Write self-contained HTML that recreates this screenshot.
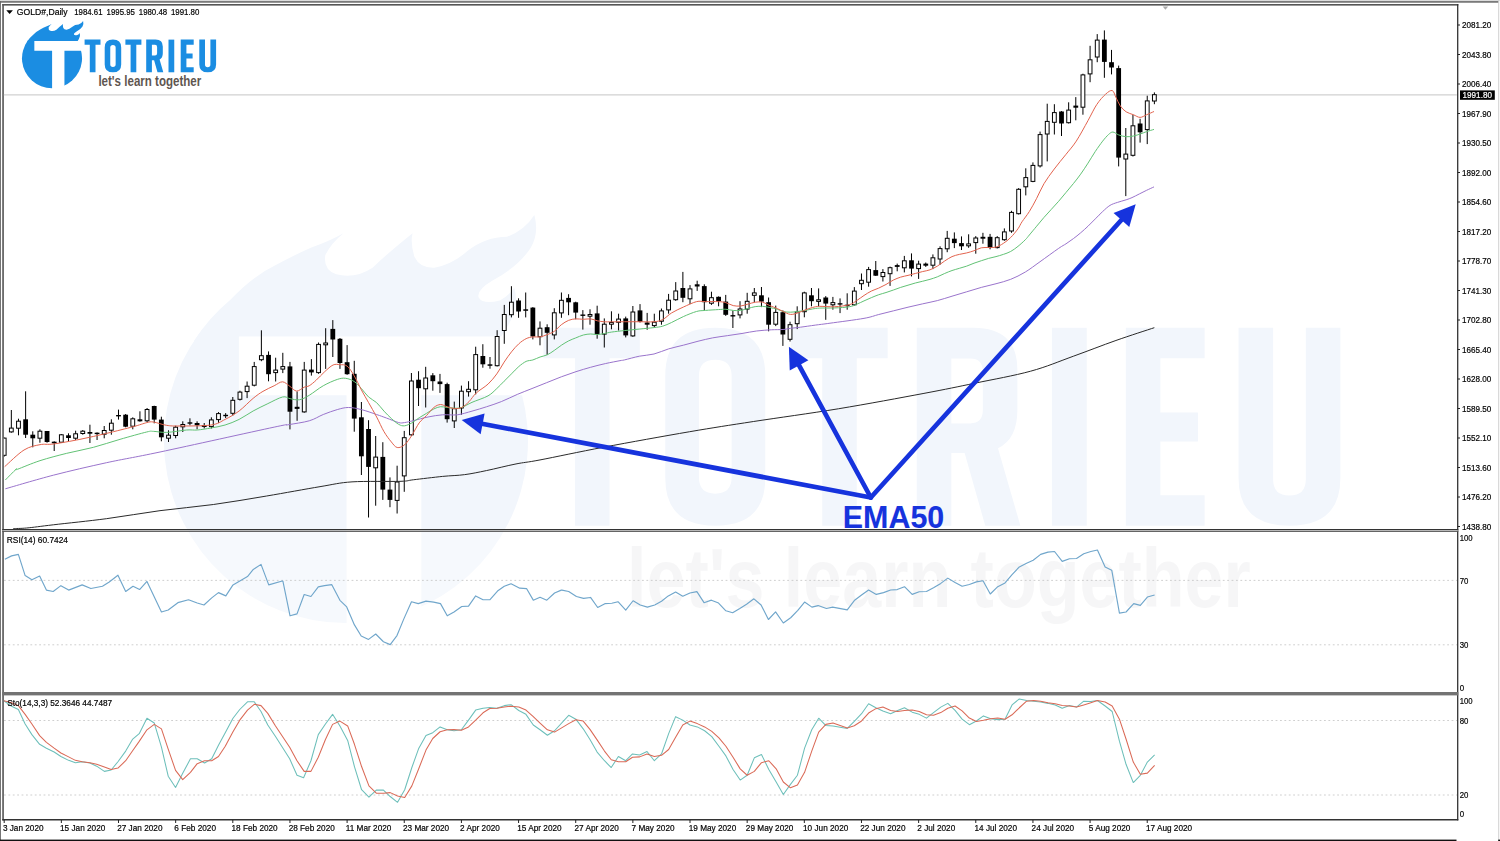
<!DOCTYPE html>
<html><head><meta charset="utf-8"><title>GOLD Daily - EMA50</title>
<style>html,body{margin:0;padding:0;background:#fff;}body{width:1500px;height:841px;overflow:hidden;font-family:"Liberation Sans",sans-serif;}svg{display:block;}text{font-family:"Liberation Sans",sans-serif;}</style>
</head><body>
<svg width="1500" height="841" viewBox="0 0 1500 841">
<defs>
<clipPath id="mainclip"><rect x="3.8" y="5.6" width="1453.2" height="523.6"/></clipPath>
<clipPath id="rsiclip"><rect x="3.8" y="532" width="1453.2" height="160"/></clipPath>
<clipPath id="stoclip"><rect x="3.8" y="695.5" width="1453.2" height="123.5"/></clipPath>
</defs>
<rect x="0" y="0" width="1500" height="841" fill="#fff"/>
<rect x="0" y="0" width="1500" height="1.1" fill="#dcdcdc"/>
<rect x="0" y="1.1" width="1498.8" height="1.6" fill="#6c6c6c"/>
<rect x="0" y="1.1" width="0.9" height="840" fill="#666"/>
<rect x="1498.2" y="0" width="1" height="841" fill="#d0d0d0"/>
<rect x="0" y="839.6" width="1456.5" height="1.4" fill="#111"/>
<rect x="1498.2" y="839.6" width="1.8" height="1.4" fill="#111"/>
<g id="wm" transform="translate(30.8,87.7) scale(6.06)">
<g fill="#f2f6fc">
<path d="M27.82,40.5 A30.03,30.03 0 1 0 76.2,40.5 Z"/>
<path d="M26.92,41.8 A30.03,30.03 0 0 1 32.94,35 Q36.5,31.2 40.2,29.4 Q43.5,27.6 46.2,26.4 Q49.5,25.2 51.6,24 Q49.6,25.6 48.6,27.6 Q48.2,30 50.4,30.8 Q53.5,31.6 56.4,29.7 Q59,27.2 63,24 Q62.6,25.5 63.3,27.9 Q64.2,29.8 66.6,29.7 Q69.5,29.2 72,27 Q75,24.6 78.6,24.6 Q81.5,23.5 83.1,21 Q83.9,24 82.5,26.4 Q80.5,29.5 76.2,31.8 Q73.5,33.4 73.9,34.6 Q74.6,35.8 77.4,35.1 Q78.8,34.4 79.8,33 Q80.6,36 78.9,39 L77.2,41.8 Z"/>
</g>
<path fill="#fff" d="M34.34,41.06 H84 V50.74 H64.44 V90 H52.1 V50.74 H34.34 Z"/>
<g fill="#f2f6fc" fill-rule="evenodd">
<path d="M84.6,39.62 H100.5 V44.65 H95.5 V72.28 H89.8 V44.65 H84.6 Z"/>
<path d="M104.7,47.5 Q104.7,39.62 112.95,39.62 Q121.2,39.62 121.2,47.5 V64.4 Q121.2,72.28 112.95,72.28 Q104.7,72.28 104.7,64.4 Z M110.25,47.6 V64.3 Q110.25,67 112.95,67 Q115.65,67 115.65,64.3 V47.6 Q115.65,44.9 112.95,44.9 Q110.25,44.9 110.25,47.6 Z"/>
<path d="M125.4,39.62 H141.4 V44.65 H136.3 V72.28 H130.6 V44.65 H125.4 Z"/>
<path d="M146.2,39.62 H155.6 Q162.8,39.62 162.8,46.6 V53.2 Q162.8,58 159.6,59.5 L163.3,72.28 H157.5 L154.1,60.3 H151.9 V72.28 H146.2 Z M151.9,44.7 V55.4 H155 Q157.1,55.4 157.1,53.2 V46.9 Q157.1,44.7 155,44.7 Z"/>
<rect x="168.5" y="39.62" width="5.75" height="32.66"/>
<path d="M180.7,39.62 H193.7 V44.65 H186.4 V53.6 H192.6 V58.4 H186.4 V67.25 H193.7 V72.28 H180.7 Z"/>
<path d="M199.3,39.62 H205 V64.6 Q205,67.3 207.7,67.3 Q210.4,67.3 210.4,64.6 V39.62 H216.1 V64.4 Q216.1,72.28 207.7,72.28 Q199.3,72.28 199.3,64.4 Z"/>
</g>
<text x="98.4" y="85.65" font-size="13.9" font-weight="bold" textLength="102.9" lengthAdjust="spacingAndGlyphs" fill="#f3f3f4">let's learn together</text>
</g>
<rect x="3.8" y="532" width="1453" height="160" fill="#fff" opacity="0.3"/>
<rect x="2.3" y="4" width="1.5" height="816.4" fill="#4a4a4a"/>
<rect x="2.3" y="4" width="1456" height="1.6" fill="#555"/>
<rect x="1457.05" y="4" width="1.3" height="816.4" fill="#333"/>
<rect x="2.3" y="529" width="1456" height="1.1" fill="#333"/>
<rect x="2.3" y="530.1" width="1456" height="0.8" fill="#bbb"/>
<rect x="2.3" y="530.9" width="1456" height="1" fill="#555"/>
<rect x="2.3" y="692" width="1456" height="3.4" fill="#737373"/>
<rect x="2.3" y="819" width="1456" height="1.5" fill="#333"/>
<polygon points="1162.7,6.6 1168.2,6.6 1165.4,9.7" fill="#aaa"/>
<rect x="3.8" y="94.4" width="1453" height="1" fill="#c6c6c6"/>
<line x1="4" y1="580.4" x2="1457" y2="580.4" stroke="#c9c9c9" stroke-width="0.9" stroke-dasharray="1.8,2.6"/>
<line x1="4" y1="644.8" x2="1457" y2="644.8" stroke="#c9c9c9" stroke-width="0.9" stroke-dasharray="1.8,2.6"/>
<line x1="4" y1="720.5" x2="1457" y2="720.5" stroke="#c9c9c9" stroke-width="0.9" stroke-dasharray="1.8,2.6"/>
<line x1="4" y1="795" x2="1457" y2="795" stroke="#c9c9c9" stroke-width="0.9" stroke-dasharray="1.8,2.6"/>
<g clip-path="url(#mainclip)">
<g fill="#000"><rect x="3.69" y="437.6" width="1" height="19"/><rect x="10.83" y="410" width="1" height="22.7"/><rect x="17.98" y="418.7" width="1" height="16.6"/><rect x="25.12" y="391.3" width="1" height="46.7"/><rect x="32.27" y="431.3" width="1" height="16"/><rect x="39.41" y="429.3" width="1" height="13.4"/><rect x="46.55" y="431" width="1" height="11.7"/><rect x="53.7" y="441.3" width="1" height="9.7"/><rect x="60.84" y="434" width="1" height="8.7"/><rect x="67.99" y="433.3" width="1" height="8"/><rect x="75.13" y="430.7" width="1" height="9.3"/><rect x="82.27" y="430" width="1" height="4.7"/><rect x="89.42" y="424.7" width="1" height="18.3"/><rect x="96.56" y="432.4" width="1" height="7.6"/><rect x="103.71" y="426" width="1" height="12.3"/><rect x="110.85" y="419.3" width="1" height="15.4"/><rect x="117.99" y="409.6" width="1" height="10"/><rect x="125.14" y="414" width="1" height="13.3"/><rect x="132.28" y="417.3" width="1" height="12"/><rect x="139.43" y="411.3" width="1" height="10.4"/><rect x="146.57" y="408" width="1" height="14.3"/><rect x="153.71" y="405.7" width="1" height="17.6"/><rect x="160.86" y="416.7" width="1" height="24.6"/><rect x="168" y="430.3" width="1" height="11.7"/><rect x="175.15" y="425.7" width="1" height="12.6"/><rect x="182.29" y="421.3" width="1" height="10.7"/><rect x="189.43" y="418.3" width="1" height="7"/><rect x="196.58" y="421.3" width="1" height="8"/><rect x="203.72" y="423" width="1" height="5.5"/><rect x="210.87" y="417.3" width="1" height="11.2"/><rect x="218.01" y="412.1" width="1" height="10.8"/><rect x="225.15" y="413.1" width="1" height="4.9"/><rect x="232.3" y="397" width="1" height="18.5"/><rect x="239.44" y="390.7" width="1" height="9.8"/><rect x="246.59" y="381.5" width="1" height="16.6"/><rect x="253.73" y="361.9" width="1" height="24.5"/><rect x="260.87" y="330.3" width="1" height="30.9"/><rect x="268.02" y="351.4" width="1" height="29.9"/><rect x="275.16" y="357.7" width="1" height="23.8"/><rect x="282.31" y="352.8" width="1" height="20.3"/><rect x="289.45" y="361.9" width="1" height="67.5"/><rect x="296.59" y="391.4" width="1" height="29.4"/><rect x="303.74" y="361.9" width="1" height="50.8"/><rect x="310.88" y="359.1" width="1" height="16.5"/><rect x="318.03" y="342.5" width="1" height="31.3"/><rect x="325.17" y="328.2" width="1" height="40.7"/><rect x="332.31" y="320.1" width="1" height="36.9"/><rect x="339.46" y="338" width="1" height="30.9"/><rect x="346.6" y="345.1" width="1" height="29.7"/><rect x="353.75" y="360.8" width="1" height="70.9"/><rect x="360.89" y="402" width="1" height="73"/><rect x="368.03" y="420.2" width="1" height="97.3"/><rect x="375.18" y="436" width="1" height="69.7"/><rect x="382.32" y="442.2" width="1" height="57.7"/><rect x="389.47" y="477.4" width="1" height="29.8"/><rect x="396.61" y="465.7" width="1" height="47.8"/><rect x="403.75" y="430.9" width="1" height="60.9"/><rect x="410.9" y="373" width="1" height="63"/><rect x="418.04" y="371.2" width="1" height="34.8"/><rect x="425.19" y="366.8" width="1" height="40.7"/><rect x="432.33" y="373.1" width="1" height="17.6"/><rect x="439.47" y="373.9" width="1" height="19"/><rect x="446.62" y="382.7" width="1" height="39.9"/><rect x="453.76" y="401.6" width="1" height="26.4"/><rect x="460.91" y="385.6" width="1" height="29.2"/><rect x="468.05" y="381.2" width="1" height="15.4"/><rect x="475.19" y="346.7" width="1" height="47.7"/><rect x="482.34" y="344.2" width="1" height="23.5"/><rect x="489.48" y="357" width="1" height="11.7"/><rect x="496.63" y="330.2" width="1" height="36.3"/><rect x="503.77" y="304.9" width="1" height="38.9"/><rect x="510.91" y="286.2" width="1" height="31.2"/><rect x="518.06" y="298.3" width="1" height="19.5"/><rect x="525.2" y="292.5" width="1" height="24.9"/><rect x="532.35" y="307.1" width="1" height="32.3"/><rect x="539.49" y="321.4" width="1" height="23.9"/><rect x="546.63" y="324.3" width="1" height="30.5"/><rect x="553.78" y="308.2" width="1" height="31.2"/><rect x="560.92" y="292.5" width="1" height="25.3"/><rect x="568.07" y="294.2" width="1" height="21"/><rect x="575.21" y="301.7" width="1" height="17.6"/><rect x="582.35" y="310.1" width="1" height="19.5"/><rect x="589.5" y="309.3" width="1" height="15.4"/><rect x="596.64" y="305.7" width="1" height="33"/><rect x="603.79" y="318.4" width="1" height="29.1"/><rect x="610.93" y="311.3" width="1" height="18"/><rect x="618.07" y="313.7" width="1" height="16.8"/><rect x="625.22" y="316.6" width="1" height="20.8"/><rect x="632.36" y="306" width="1" height="30.8"/><rect x="639.51" y="304.1" width="1" height="18.4"/><rect x="646.65" y="312.9" width="1" height="16.9"/><rect x="653.79" y="313.7" width="1" height="13.9"/><rect x="660.94" y="308.5" width="1" height="16.2"/><rect x="668.08" y="293.9" width="1" height="19.8"/><rect x="675.23" y="282.1" width="1" height="18.7"/><rect x="682.37" y="271.9" width="1" height="30.3"/><rect x="689.51" y="285.1" width="1" height="19"/><rect x="696.66" y="280.7" width="1" height="10.2"/><rect x="703.8" y="284.3" width="1" height="25.7"/><rect x="710.95" y="291.7" width="1" height="13.2"/><rect x="718.09" y="296.4" width="1" height="9.9"/><rect x="725.23" y="294.9" width="1" height="21"/><rect x="732.38" y="310.7" width="1" height="17.3"/><rect x="739.52" y="301.2" width="1" height="17.2"/><rect x="746.67" y="292.8" width="1" height="20.9"/><rect x="753.81" y="288" width="1" height="14.2"/><rect x="760.95" y="287" width="1" height="20.1"/><rect x="768.1" y="297.5" width="1" height="33.8"/><rect x="775.24" y="305.6" width="1" height="20.5"/><rect x="782.39" y="310.4" width="1" height="35.5"/><rect x="789.53" y="321.7" width="1" height="19.8"/><rect x="796.67" y="306.3" width="1" height="22.8"/><rect x="803.82" y="291.7" width="1" height="25.6"/><rect x="810.96" y="288" width="1" height="18.3"/><rect x="818.11" y="288.4" width="1" height="17.9"/><rect x="825.25" y="296.1" width="1" height="23.7"/><rect x="832.39" y="296.9" width="1" height="12.8"/><rect x="839.54" y="298.4" width="1" height="14.7"/><rect x="846.68" y="293.3" width="1" height="16.4"/><rect x="853.83" y="287.1" width="1" height="18.6"/><rect x="860.97" y="273.5" width="1" height="16.5"/><rect x="868.11" y="266.9" width="1" height="19.8"/><rect x="875.26" y="261" width="1" height="15"/><rect x="882.4" y="269.1" width="1" height="12.4"/><rect x="889.55" y="266.6" width="1" height="19.3"/><rect x="896.69" y="263.6" width="1" height="7.7"/><rect x="903.83" y="255.9" width="1" height="16.5"/><rect x="910.98" y="253.4" width="1" height="23"/><rect x="918.12" y="260.7" width="1" height="18.2"/><rect x="925.27" y="262.5" width="1" height="4.4"/><rect x="932.41" y="254.4" width="1" height="14.7"/><rect x="939.55" y="246.3" width="1" height="18.4"/><rect x="946.7" y="230.9" width="1" height="21.3"/><rect x="953.84" y="232.4" width="1" height="15.7"/><rect x="960.99" y="236.4" width="1" height="13.6"/><rect x="968.13" y="234.3" width="1" height="13.5"/><rect x="975.27" y="236.1" width="1" height="17.6"/><rect x="982.42" y="232.8" width="1" height="10.9"/><rect x="989.56" y="233.9" width="1" height="15.4"/><rect x="996.71" y="236.1" width="1" height="12.4"/><rect x="1003.85" y="228.4" width="1" height="12.4"/><rect x="1010.99" y="210.8" width="1" height="22"/><rect x="1018.14" y="188.1" width="1" height="26.4"/><rect x="1025.28" y="168.3" width="1" height="27.1"/><rect x="1032.43" y="162.4" width="1" height="19.8"/><rect x="1039.57" y="131.6" width="1" height="35.9"/><rect x="1046.71" y="103.7" width="1" height="57.7"/><rect x="1053.86" y="104.2" width="1" height="30.3"/><rect x="1061" y="111.1" width="1" height="24.9"/><rect x="1068.15" y="102.3" width="1" height="21.2"/><rect x="1075.29" y="97.1" width="1" height="23.2"/><rect x="1082.43" y="73.7" width="1" height="41"/><rect x="1089.58" y="45.8" width="1" height="36.4"/><rect x="1096.72" y="34.1" width="1" height="28.1"/><rect x="1103.87" y="30.4" width="1" height="47.4"/><rect x="1111.01" y="49.9" width="1" height="24.5"/><rect x="1118.15" y="65.6" width="1" height="100.8"/><rect x="1125.3" y="128" width="1" height="68.1"/><rect x="1132.44" y="114.7" width="1" height="41.8"/><rect x="1139.59" y="118.8" width="1" height="23.8"/><rect x="1146.73" y="95.7" width="1" height="48.4"/><rect x="1153.87" y="92.4" width="1" height="11.8"/></g>
<rect x="2.29" y="438.1" width="3.8" height="17.2" fill="#fff" stroke="#000" stroke-width="1"/><rect x="9.43" y="428.1" width="3.8" height="3.8" fill="#fff" stroke="#000" stroke-width="1"/><rect x="16.58" y="421.2" width="3.8" height="7" fill="#fff" stroke="#000" stroke-width="1"/><rect x="23.22" y="419.3" width="4.8" height="15.4" fill="#000"/><rect x="30.37" y="434.7" width="4.8" height="3.6" fill="#000"/><rect x="38.01" y="431.2" width="3.8" height="7" fill="#fff" stroke="#000" stroke-width="1"/><rect x="44.65" y="431" width="4.8" height="11" fill="#000"/><rect x="51.8" y="441.7" width="4.8" height="1.6" fill="#000"/><rect x="59.44" y="434.8" width="3.8" height="7.4" fill="#fff" stroke="#000" stroke-width="1"/><rect x="66.09" y="435.3" width="4.8" height="2.7" fill="#000"/><rect x="73.73" y="433.8" width="3.8" height="4.4" fill="#fff" stroke="#000" stroke-width="1"/><rect x="80.87" y="431.2" width="3.8" height="2.3" fill="#fff" stroke="#000" stroke-width="1"/><rect x="87.52" y="432" width="4.8" height="1.7" fill="#000"/><rect x="94.66" y="432.7" width="4.8" height="1.4" fill="#000"/><rect x="102.31" y="430.5" width="3.8" height="3.7" fill="#fff" stroke="#000" stroke-width="1"/><rect x="109.45" y="423.2" width="3.8" height="7" fill="#fff" stroke="#000" stroke-width="1"/><rect x="116.09" y="415" width="4.8" height="1.4" fill="#000"/><rect x="123.24" y="414.7" width="4.8" height="12" fill="#000"/><rect x="130.88" y="418.8" width="3.8" height="7.4" fill="#fff" stroke="#000" stroke-width="1"/><rect x="137.53" y="419.3" width="4.8" height="2" fill="#000"/><rect x="145.17" y="409.5" width="3.8" height="11.3" fill="#fff" stroke="#000" stroke-width="1"/><rect x="151.81" y="406" width="4.8" height="13.6" fill="#000"/><rect x="158.96" y="419.6" width="4.8" height="17.7" fill="#000"/><rect x="166.6" y="435.2" width="3.8" height="3" fill="#fff" stroke="#000" stroke-width="1"/><rect x="173.75" y="427.2" width="3.8" height="8.3" fill="#fff" stroke="#000" stroke-width="1"/><rect x="180.89" y="424.5" width="3.8" height="2.3" fill="#fff" stroke="#000" stroke-width="1"/><rect x="187.53" y="422.3" width="4.8" height="1.4" fill="#000"/><rect x="194.68" y="423" width="4.8" height="2.3" fill="#000"/><rect x="201.82" y="425" width="4.8" height="2" fill="#000"/><rect x="209.47" y="419.9" width="3.8" height="6.7" fill="#fff" stroke="#000" stroke-width="1"/><rect x="216.61" y="413.6" width="3.8" height="6" fill="#fff" stroke="#000" stroke-width="1"/><rect x="223.25" y="414.8" width="4.8" height="1.4" fill="#000"/><rect x="230.9" y="400.3" width="3.8" height="13" fill="#fff" stroke="#000" stroke-width="1"/><rect x="238.04" y="392.1" width="3.8" height="7.2" fill="#fff" stroke="#000" stroke-width="1"/><rect x="245.19" y="386.2" width="3.8" height="5.4" fill="#fff" stroke="#000" stroke-width="1"/><rect x="252.33" y="366.6" width="3.8" height="18.6" fill="#fff" stroke="#000" stroke-width="1"/><rect x="259.47" y="355.7" width="3.8" height="4" fill="#fff" stroke="#000" stroke-width="1"/><rect x="266.12" y="354.9" width="4.8" height="19.3" fill="#000"/><rect x="273.76" y="370.1" width="3.8" height="2.5" fill="#fff" stroke="#000" stroke-width="1"/><rect x="280.91" y="366.6" width="3.8" height="2.5" fill="#fff" stroke="#000" stroke-width="1"/><rect x="287.55" y="366.4" width="4.8" height="45.3" fill="#000"/><rect x="294.69" y="406.8" width="4.8" height="2.1" fill="#000"/><rect x="302.34" y="370.1" width="3.8" height="41.8" fill="#fff" stroke="#000" stroke-width="1"/><rect x="308.98" y="369.6" width="4.8" height="2.8" fill="#000"/><rect x="316.63" y="344.4" width="3.8" height="28.2" fill="#fff" stroke="#000" stroke-width="1"/><rect x="323.77" y="343" width="3.8" height="1.8" fill="#fff" stroke="#000" stroke-width="1"/><rect x="330.41" y="328.9" width="4.8" height="10.6" fill="#000"/><rect x="337.56" y="338.8" width="4.8" height="24.2" fill="#000"/><rect x="344.7" y="362.2" width="4.8" height="12" fill="#000"/><rect x="351.85" y="373.8" width="4.8" height="44.8" fill="#000"/><rect x="358.99" y="417.3" width="4.8" height="39" fill="#000"/><rect x="366.13" y="429" width="4.8" height="37.9" fill="#000"/><rect x="373.78" y="457.1" width="3.8" height="10.7" fill="#fff" stroke="#000" stroke-width="1"/><rect x="380.42" y="456.9" width="4.8" height="32.7" fill="#000"/><rect x="387.57" y="489.6" width="4.8" height="10.3" fill="#000"/><rect x="395.21" y="482" width="3.8" height="18.4" fill="#fff" stroke="#000" stroke-width="1"/><rect x="402.35" y="437.7" width="3.8" height="38.2" fill="#fff" stroke="#000" stroke-width="1"/><rect x="409.5" y="381" width="3.8" height="53.8" fill="#fff" stroke="#000" stroke-width="1"/><rect x="416.14" y="379.7" width="4.8" height="8.5" fill="#000"/><rect x="423.79" y="378" width="3.8" height="10.8" fill="#fff" stroke="#000" stroke-width="1"/><rect x="430.43" y="375.3" width="4.8" height="5.9" fill="#000"/><rect x="437.57" y="381.5" width="4.8" height="2.6" fill="#000"/><rect x="444.72" y="384.1" width="4.8" height="35.1" fill="#000"/><rect x="452.36" y="408.7" width="3.8" height="12.2" fill="#fff" stroke="#000" stroke-width="1"/><rect x="459.51" y="391.2" width="3.8" height="16.8" fill="#fff" stroke="#000" stroke-width="1"/><rect x="466.65" y="389.3" width="3.8" height="2.4" fill="#fff" stroke="#000" stroke-width="1"/><rect x="473.79" y="354.6" width="3.8" height="35.2" fill="#fff" stroke="#000" stroke-width="1"/><rect x="480.44" y="356" width="4.8" height="8.3" fill="#000"/><rect x="487.58" y="364.3" width="4.8" height="1.5" fill="#000"/><rect x="495.23" y="336.5" width="3.8" height="29.2" fill="#fff" stroke="#000" stroke-width="1"/><rect x="502.37" y="314.5" width="3.8" height="16" fill="#fff" stroke="#000" stroke-width="1"/><rect x="509.51" y="302.2" width="3.8" height="12.5" fill="#fff" stroke="#000" stroke-width="1"/><rect x="516.16" y="300.5" width="4.8" height="11" fill="#000"/><rect x="523.3" y="309.3" width="4.8" height="1.5" fill="#000"/><rect x="530.45" y="307.6" width="4.8" height="28.9" fill="#000"/><rect x="538.09" y="328.2" width="3.8" height="8.5" fill="#fff" stroke="#000" stroke-width="1"/><rect x="544.73" y="327.2" width="4.8" height="5.6" fill="#000"/><rect x="552.38" y="312.8" width="3.8" height="22.1" fill="#fff" stroke="#000" stroke-width="1"/><rect x="559.52" y="300.3" width="3.8" height="12.6" fill="#fff" stroke="#000" stroke-width="1"/><rect x="566.17" y="297.9" width="4.8" height="4.4" fill="#000"/><rect x="573.31" y="302.3" width="4.8" height="10.3" fill="#000"/><rect x="580.45" y="314.5" width="4.8" height="1.4" fill="#000"/><rect x="588.1" y="314.5" width="3.8" height="1.7" fill="#fff" stroke="#000" stroke-width="1"/><rect x="594.74" y="313.4" width="4.8" height="20.9" fill="#000"/><rect x="602.39" y="324.2" width="3.8" height="9.9" fill="#fff" stroke="#000" stroke-width="1"/><rect x="609.53" y="322.5" width="3.8" height="1.7" fill="#fff" stroke="#000" stroke-width="1"/><rect x="616.67" y="319.1" width="3.8" height="3.2" fill="#fff" stroke="#000" stroke-width="1"/><rect x="623.32" y="318.4" width="4.8" height="17" fill="#000"/><rect x="630.96" y="312" width="3.8" height="23.9" fill="#fff" stroke="#000" stroke-width="1"/><rect x="637.61" y="310.4" width="4.8" height="11.3" fill="#000"/><rect x="644.75" y="322.5" width="4.8" height="2.2" fill="#000"/><rect x="652.39" y="322.2" width="3.8" height="3.4" fill="#fff" stroke="#000" stroke-width="1"/><rect x="659.54" y="310.9" width="3.8" height="10.3" fill="#fff" stroke="#000" stroke-width="1"/><rect x="666.68" y="300.2" width="3.8" height="9.7" fill="#fff" stroke="#000" stroke-width="1"/><rect x="673.83" y="291" width="3.8" height="8.7" fill="#fff" stroke="#000" stroke-width="1"/><rect x="680.47" y="288" width="4.8" height="9.8" fill="#000"/><rect x="688.11" y="288.9" width="3.8" height="9.9" fill="#fff" stroke="#000" stroke-width="1"/><rect x="694.76" y="284.3" width="4.8" height="2.2" fill="#000"/><rect x="701.9" y="286.1" width="4.8" height="16.1" fill="#000"/><rect x="709.55" y="297.7" width="3.8" height="5.5" fill="#fff" stroke="#000" stroke-width="1"/><rect x="716.19" y="296.8" width="4.8" height="4.4" fill="#000"/><rect x="723.33" y="301.6" width="4.8" height="13.2" fill="#000"/><rect x="730.48" y="315.1" width="4.8" height="1.4" fill="#000"/><rect x="738.12" y="309" width="3.8" height="5.9" fill="#fff" stroke="#000" stroke-width="1"/><rect x="745.27" y="301.3" width="3.8" height="7.8" fill="#fff" stroke="#000" stroke-width="1"/><rect x="752.41" y="292.9" width="3.8" height="2.4" fill="#fff" stroke="#000" stroke-width="1"/><rect x="759.05" y="295.3" width="4.8" height="6.3" fill="#000"/><rect x="766.2" y="302.2" width="4.8" height="22.5" fill="#000"/><rect x="773.84" y="312.4" width="3.8" height="11.8" fill="#fff" stroke="#000" stroke-width="1"/><rect x="780.49" y="312.2" width="4.8" height="22.3" fill="#000"/><rect x="788.13" y="324.7" width="3.8" height="14.6" fill="#fff" stroke="#000" stroke-width="1"/><rect x="795.27" y="312" width="3.8" height="11.7" fill="#fff" stroke="#000" stroke-width="1"/><rect x="802.42" y="292.9" width="3.8" height="18.8" fill="#fff" stroke="#000" stroke-width="1"/><rect x="809.06" y="295.3" width="4.8" height="5.9" fill="#000"/><rect x="816.71" y="299.8" width="3.8" height="1.6" fill="#fff" stroke="#000" stroke-width="1"/><rect x="823.35" y="297.5" width="4.8" height="6.1" fill="#000"/><rect x="830.99" y="302.6" width="3.8" height="2.2" fill="#fff" stroke="#000" stroke-width="1"/><rect x="837.64" y="303.2" width="4.8" height="1.4" fill="#000"/><rect x="844.78" y="304.7" width="4.8" height="1.5" fill="#000"/><rect x="852.43" y="291.1" width="3.8" height="13.7" fill="#fff" stroke="#000" stroke-width="1"/><rect x="859.57" y="280.3" width="3.8" height="3.4" fill="#fff" stroke="#000" stroke-width="1"/><rect x="866.71" y="269.6" width="3.8" height="12.6" fill="#fff" stroke="#000" stroke-width="1"/><rect x="873.36" y="270.1" width="4.8" height="5.6" fill="#000"/><rect x="881" y="272.5" width="3.8" height="4.1" fill="#fff" stroke="#000" stroke-width="1"/><rect x="888.15" y="267.7" width="3.8" height="6" fill="#fff" stroke="#000" stroke-width="1"/><rect x="894.79" y="265.1" width="4.8" height="1.8" fill="#000"/><rect x="902.43" y="260.8" width="3.8" height="7" fill="#fff" stroke="#000" stroke-width="1"/><rect x="909.08" y="260.3" width="4.8" height="8.3" fill="#000"/><rect x="916.72" y="264.1" width="3.8" height="4.5" fill="#fff" stroke="#000" stroke-width="1"/><rect x="923.37" y="263.6" width="4.8" height="2.1" fill="#000"/><rect x="931.01" y="257.8" width="3.8" height="7.4" fill="#fff" stroke="#000" stroke-width="1"/><rect x="938.15" y="248.6" width="3.8" height="10.4" fill="#fff" stroke="#000" stroke-width="1"/><rect x="945.3" y="238.3" width="3.8" height="10.5" fill="#fff" stroke="#000" stroke-width="1"/><rect x="951.94" y="238.7" width="4.8" height="4.4" fill="#000"/><rect x="959.09" y="243.1" width="4.8" height="3.2" fill="#000"/><rect x="966.73" y="243.9" width="3.8" height="1.9" fill="#fff" stroke="#000" stroke-width="1"/><rect x="973.87" y="238" width="3.8" height="4.6" fill="#fff" stroke="#000" stroke-width="1"/><rect x="980.52" y="236.8" width="4.8" height="1.9" fill="#000"/><rect x="987.66" y="236.8" width="4.8" height="11" fill="#000"/><rect x="995.31" y="237.7" width="3.8" height="9.9" fill="#fff" stroke="#000" stroke-width="1"/><rect x="1002.45" y="231.9" width="3.8" height="7.8" fill="#fff" stroke="#000" stroke-width="1"/><rect x="1009.59" y="212.4" width="3.8" height="18.6" fill="#fff" stroke="#000" stroke-width="1"/><rect x="1016.74" y="189.3" width="3.8" height="24.4" fill="#fff" stroke="#000" stroke-width="1"/><rect x="1023.88" y="177.6" width="3.8" height="9.2" fill="#fff" stroke="#000" stroke-width="1"/><rect x="1031.03" y="165.4" width="3.8" height="16" fill="#fff" stroke="#000" stroke-width="1"/><rect x="1038.17" y="134.6" width="3.8" height="31.3" fill="#fff" stroke="#000" stroke-width="1"/><rect x="1045.31" y="121.4" width="3.8" height="12.6" fill="#fff" stroke="#000" stroke-width="1"/><rect x="1052.46" y="112.6" width="3.8" height="9.7" fill="#fff" stroke="#000" stroke-width="1"/><rect x="1059.1" y="111.5" width="4.8" height="12" fill="#000"/><rect x="1066.75" y="110.1" width="3.8" height="12.6" fill="#fff" stroke="#000" stroke-width="1"/><rect x="1073.39" y="105.6" width="4.8" height="2.1" fill="#000"/><rect x="1081.03" y="74.9" width="3.8" height="32.3" fill="#fff" stroke="#000" stroke-width="1"/><rect x="1088.18" y="59.8" width="3.8" height="14.1" fill="#fff" stroke="#000" stroke-width="1"/><rect x="1095.32" y="40.1" width="3.8" height="16.9" fill="#fff" stroke="#000" stroke-width="1"/><rect x="1101.97" y="39.6" width="4.8" height="22.3" fill="#000"/><rect x="1109.11" y="62.2" width="4.8" height="5.3" fill="#000"/><rect x="1116.25" y="68.1" width="4.8" height="89.5" fill="#000"/><rect x="1123.9" y="154.1" width="3.8" height="4.9" fill="#fff" stroke="#000" stroke-width="1"/><rect x="1131.04" y="125.8" width="3.8" height="29.5" fill="#fff" stroke="#000" stroke-width="1"/><rect x="1137.69" y="123.5" width="4.8" height="8.8" fill="#000"/><rect x="1145.33" y="100.9" width="3.8" height="28.7" fill="#fff" stroke="#000" stroke-width="1"/><rect x="1152.47" y="94.7" width="3.8" height="6.3" fill="#fff" stroke="#000" stroke-width="1"/>
<path d="M13.33,528.53 C15.56,528.44 20,528.62 26.67,528 C33.33,527.38 40,526.36 53.33,524.8 C66.67,523.24 88.89,521.02 106.67,518.67 C124.44,516.31 142.22,513.02 160,510.67 C177.78,508.31 195.56,506.98 213.33,504.53 C231.11,502.09 248.89,498.98 266.67,496 C284.44,493.02 305.78,489.02 320,486.67 C334.22,484.31 338.67,482.76 352,481.87 C365.33,480.98 389.78,481.68 400,481.33 C410.22,480.98 406.22,480.6 413.34,479.78 C420.45,478.95 434.11,477.26 442.67,476.4 C451.23,475.55 457.34,475.62 464.67,474.64 C472,473.66 478.11,472.32 486.67,470.54 C495.23,468.75 507.12,465.7 516,463.94 C524.89,462.17 525.34,462.73 540,459.93 C554.66,457.13 579.11,451.83 603.99,447.13 C628.88,442.44 664.43,436.04 689.32,431.77 C714.2,427.51 728.42,425.38 753.31,421.54 C778.2,417.7 810.19,413.43 838.63,408.74 C867.08,404.04 901.21,397.65 923.96,393.38 C946.71,389.11 957.38,386.84 975.15,383.14 C992.93,379.44 1014.26,375.67 1030.61,371.19 C1046.97,366.72 1059.06,361.38 1073.28,356.26 C1087.5,351.14 1102.43,345.24 1115.94,340.48 C1129.45,335.71 1147.94,329.81 1154.33,327.68" fill="none" stroke="#2a2a2a" stroke-width="1.0" stroke-linejoin="round"/>
<path d="M5.33,488.8 C13.33,486.53 36.44,479.56 53.33,475.2 C70.22,470.84 88.89,466.53 106.67,462.67 C124.44,458.8 132.08,457.92 160,452 C187.92,446.08 252.8,431.67 274.16,427.13 C295.53,422.58 282.35,425.79 288.19,424.74 C294.04,423.69 303.39,422.52 309.23,420.81 C315.08,419.11 318.58,416.37 323.26,414.5 C327.93,412.63 333.08,410.76 337.29,409.59 C341.49,408.42 344.49,407.49 348.51,407.49 C352.53,407.49 356.74,408.42 361.41,409.59 C366.09,410.76 372.4,413.1 376.56,414.5 C380.72,415.91 382.7,416.66 386.38,418.01 C390.07,419.35 395.64,421.81 398.67,422.57 C401.69,423.33 402.09,422.89 404.54,422.57 C406.98,422.26 409.42,421.6 413.34,420.67 C417.25,419.74 423.11,417.98 428,417 C432.89,416.02 437.78,415.17 442.67,414.8 C447.56,414.43 452.45,415.41 457.34,414.8 C462.23,414.19 467.11,412.48 472,411.13 C476.89,409.79 481.78,408.32 486.67,406.73 C491.56,405.14 496.23,403.66 501.34,401.6 C506.45,399.55 512.23,396.58 517.34,394.4 C522.45,392.23 527.11,390.49 532,388.54 C536.89,386.58 541.78,384.63 546.67,382.67 C551.56,380.71 556.45,378.64 561.34,376.8 C566.23,374.97 571.12,373.26 576,371.67 C580.89,370.08 585.78,368.61 590.67,367.27 C595.56,365.92 600.45,364.7 605.34,363.6 C610.23,362.5 616.78,361.29 620.01,360.67 C623.23,360.05 621.45,360.61 624.67,359.87 C627.89,359.13 634.45,357.18 639.33,356.2 C644.22,355.22 649.11,355.22 654,354 C658.89,352.78 663.78,350.34 668.67,348.87 C673.56,347.4 678.45,346.47 683.34,345.2 C688.22,343.93 693.11,342.46 698,341.24 C702.89,340.02 707.78,338.8 712.67,337.87 C717.56,336.94 722.45,336.4 727.34,335.67 C732.23,334.94 737.11,334.25 742,333.47 C746.89,332.69 751.78,331.59 756.67,330.98 C761.56,330.36 766.94,330.05 771.34,329.8 C775.74,329.56 779.89,329.75 783.07,329.51 C786.25,329.26 787.47,328.73 790.4,328.34 C793.34,327.94 796.52,327.7 800.67,327.16 C804.83,326.62 810.45,325.77 815.34,325.11 C820.23,324.45 821.9,324.33 830.01,323.2 C838.12,322.08 855.89,319.79 864,318.35 C872.11,316.91 873.78,315.78 878.67,314.54 C883.56,313.29 888.45,312.09 893.34,310.87 C898.22,309.65 903.11,308.38 908,307.2 C912.89,306.03 917.78,304.93 922.67,303.83 C927.56,302.73 932.45,301.87 937.34,300.6 C942.23,299.33 947.11,297.67 952,296.2 C956.89,294.74 961.78,293.27 966.67,291.8 C971.56,290.34 976.45,288.75 981.34,287.4 C986.23,286.06 991.12,285.08 996,283.74 C1000.89,282.39 1005.78,281.29 1010.67,279.34 C1015.56,277.38 1020.45,274.94 1025.34,272 C1030.23,269.07 1034.45,265.68 1040.01,261.74 C1045.56,257.79 1054.34,251.34 1058.67,248.35 C1063,245.36 1063.56,245.42 1066,243.8 C1068.45,242.19 1070.89,240.5 1073.34,238.67 C1075.78,236.84 1078.22,234.88 1080.67,232.8 C1083.11,230.73 1085.56,228.52 1088,226.2 C1090.45,223.88 1092.89,221.31 1095.34,218.87 C1097.78,216.42 1100.22,213.78 1102.67,211.54 C1105.11,209.29 1107.56,206.89 1110,205.38 C1112.45,203.86 1114.65,203.37 1117.34,202.44 C1120.03,201.51 1123.69,200.61 1126.14,199.8 C1128.58,199 1129.8,198.58 1132,197.6 C1134.2,196.62 1136.89,195.16 1139.34,193.94 C1141.78,192.71 1144.23,191.44 1146.67,190.27 C1149.12,189.1 1152.78,187.46 1154,186.89" fill="none" stroke="#9a74cc" stroke-width="1.0" stroke-linejoin="round"/>
<path d="M5.33,480 C7.11,478.22 14,471.11 16,469.33 C18,467.56 13.33,470.78 17.33,469.33 C21.33,467.89 31.78,463.33 40,460.67 C48.22,458 57.78,455.56 66.67,453.33 C75.56,451.11 84.44,449.67 93.33,447.33 C102.22,445 111.11,441.89 120,439.33 C128.89,436.78 141.11,433.33 146.67,432 C152.22,430.67 150,431.27 153.33,431.33 C156.67,431.4 161.11,432.62 166.67,432.4 C172.22,432.18 181.56,430.4 186.67,430 C191.78,429.6 193.27,430.34 197.33,430 C201.4,429.66 206.42,428.8 211.04,427.97 C215.66,427.14 220.39,426.45 225.07,425.02 C229.74,423.6 234.42,421.75 239.1,419.41 C243.77,417.07 248.45,413.57 253.12,411 C257.8,408.42 262.24,406.32 267.15,403.98 C272.06,401.64 278.77,397.86 282.58,396.97 C286.39,396.08 287.21,398.18 290.01,398.65 C292.82,399.12 296.21,400.34 299.41,399.77 C302.62,399.21 305.26,397.62 309.23,395.29 C313.21,392.95 318.58,388.39 323.26,385.75 C327.93,383.11 333.55,380.67 337.29,379.43 C341.03,378.2 342.87,377.96 345.7,378.31 C348.53,378.66 351.64,379.83 354.26,381.54 C356.88,383.25 359.03,385.98 361.41,388.55 C363.8,391.12 366.04,394.63 368.57,396.97 C371.09,399.31 373.99,400.22 376.56,402.58 C379.13,404.94 381.54,408.49 384,411.13 C386.46,413.78 388.89,416.27 391.33,418.47 C393.78,420.67 396.47,423.11 398.67,424.33 C400.87,425.56 402.33,426.05 404.54,425.8 C406.74,425.56 409.42,424.21 411.87,422.87 C414.31,421.52 416.76,419.32 419.2,417.73 C421.65,416.15 424.09,414.8 426.54,413.33 C428.98,411.87 431.55,410.03 433.87,408.93 C436.19,407.83 438.27,406.98 440.47,406.73 C442.67,406.49 444.75,407.22 447.07,407.47 C449.39,407.71 451.96,408.2 454.4,408.2 C456.85,408.2 458.8,408.44 461.74,407.47 C464.67,406.49 467.63,404.27 472,402.33 C476.38,400.4 483.87,398.17 488,395.87 C492.14,393.57 494.11,390.98 496.8,388.54 C499.49,386.09 501.69,383.65 504.14,381.2 C506.58,378.76 509.03,376.31 511.47,373.87 C513.91,371.42 516.36,368.61 518.8,366.54 C521.25,364.46 523.79,362.5 526.14,361.4 C528.48,360.3 530.56,360.67 532.88,359.94 C535.21,359.2 537.67,357.86 540.07,357 C542.47,356.15 544.89,355.9 547.26,354.8 C549.63,353.7 551.95,351.99 554.3,350.4 C556.64,348.81 558.94,346.86 561.34,345.27 C563.73,343.68 566.28,342.09 568.67,340.87 C571.07,339.65 573.27,338.91 575.71,337.93 C578.16,336.96 580.84,335.66 583.34,335 C585.83,334.34 588.35,334.05 590.67,333.97 C592.99,333.9 595,334.63 597.27,334.56 C599.55,334.49 601.94,333.95 604.31,333.53 C606.68,333.12 608.11,332.57 611.5,332.07 C614.89,331.57 620.03,331.04 624.67,330.54 C629.31,330.04 634.45,329.56 639.33,329.07 C644.22,328.58 650.09,328.09 654,327.6 C657.91,327.11 659.87,326.99 662.8,326.14 C665.73,325.28 668.18,324.06 671.6,322.47 C675.02,320.88 679.18,318.44 683.34,316.6 C687.49,314.77 692.87,312.49 696.54,311.47 C700.2,310.44 701.67,310.76 705.34,310.44 C709,310.12 715.11,309.76 718.54,309.56 C721.96,309.37 723.43,309.12 725.87,309.27 C728.31,309.41 730.76,310.25 733.2,310.44 C735.65,310.64 738.09,310.76 740.54,310.44 C742.98,310.12 745.43,309.17 747.87,308.53 C750.31,307.9 752.76,306.99 755.2,306.63 C757.65,306.26 760.09,306.19 762.54,306.33 C764.98,306.48 767.43,307.02 769.87,307.51 C772.32,308 775,308.61 777.2,309.27 C779.4,309.93 780.87,310.98 783.07,311.47 C785.27,311.96 787.96,312.2 790.4,312.2 C792.85,312.2 795.29,311.76 797.74,311.47 C800.18,311.17 802.63,310.86 805.07,310.44 C807.52,310.03 809.96,309.37 812.41,308.97 C814.85,308.58 816.03,308.27 819.74,308.09 C823.45,307.92 829.73,308.16 834.67,307.94 C839.6,307.71 845.67,307.37 849.33,306.76 C853,306.15 854.22,305.25 856.67,304.27 C859.11,303.29 861.56,302 864,300.9 C866.45,299.8 868.89,298.7 871.33,297.67 C873.78,296.64 876.22,295.59 878.67,294.74 C881.11,293.88 883.56,293.32 886,292.54 C888.45,291.75 890.89,290.9 893.34,290.04 C895.78,289.19 898.22,288.21 900.67,287.4 C903.11,286.6 905.56,285.94 908,285.2 C910.45,284.47 912.89,283.66 915.34,283 C917.78,282.34 920.22,281.85 922.67,281.24 C925.11,280.63 927.56,280.07 930,279.34 C932.45,278.6 934.89,277.82 937.34,276.84 C939.78,275.86 942.23,274.52 944.67,273.47 C947.11,272.42 949.56,271.39 952,270.54 C954.45,269.68 956.89,269.07 959.34,268.34 C961.78,267.6 964.23,266.99 966.67,266.14 C969.12,265.28 971.56,264.11 974,263.2 C976.45,262.3 978.89,261.52 981.34,260.71 C983.78,259.9 986.23,259.05 988.67,258.36 C991.12,257.68 993.56,257.26 996,256.6 C998.45,255.94 1000.89,255.26 1003.34,254.4 C1005.78,253.55 1008.23,252.81 1010.67,251.47 C1013.12,250.12 1015.56,248.29 1018.01,246.33 C1020.45,244.38 1023.45,241.62 1025.34,239.73 C1027.23,237.85 1027.45,237.26 1029.33,235 C1031.22,232.75 1034.22,229.14 1036.67,226.2 C1039.11,223.27 1041.56,220.21 1044,217.4 C1046.45,214.59 1048.89,212.02 1051.33,209.34 C1053.78,206.65 1056.22,204.08 1058.67,201.27 C1061.11,198.46 1063.56,195.4 1066,192.47 C1068.45,189.54 1070.89,186.72 1073.34,183.67 C1075.78,180.61 1078.22,177.56 1080.67,174.13 C1083.11,170.71 1085.56,166.92 1088,163.13 C1090.45,159.35 1092.89,155.07 1095.34,151.4 C1097.78,147.73 1100.47,143.94 1102.67,141.13 C1104.87,138.32 1106.83,136.05 1108.54,134.53 C1110.25,133.02 1111.23,131.97 1112.94,132.04 C1114.65,132.11 1116.6,134.19 1118.8,134.97 C1121,135.76 1123.69,136.56 1126.14,136.73 C1128.58,136.9 1131.03,136.49 1133.47,136 C1135.91,135.51 1138.6,134.53 1140.8,133.8 C1143,133.07 1144.47,132.33 1146.67,131.6 C1148.87,130.87 1152.78,129.77 1154,129.4" fill="none" stroke="#62c275" stroke-width="1.0" stroke-linejoin="round"/>
<path d="M4.67,466.67 C7.89,463.89 18.11,453.67 24,450 C29.89,446.33 35.11,445.67 40,444.67 C44.89,443.67 46.67,444.89 53.33,444 C60,443.11 71.11,441.11 80,439.33 C88.89,437.56 97.78,435.44 106.67,433.33 C115.56,431.22 126.67,428.44 133.33,426.67 C140,424.89 143.33,423.44 146.67,422.67 C150,421.89 150,421.56 153.33,422 C156.67,422.44 162.22,424.67 166.67,425.33 C171.11,426 172.6,426.05 180,426 C187.4,425.95 203.53,426.12 211.04,425.02 C218.55,423.93 220.39,421.75 225.07,419.41 C229.74,417.07 234.42,414.5 239.1,411 C243.77,407.49 249.15,401.64 253.12,398.37 C257.1,395.1 259.43,393.46 262.94,391.36 C266.45,389.25 270.89,387.34 274.16,385.75 C277.44,384.16 279.94,381.7 282.58,381.82 C285.22,381.94 287.68,384.91 290.01,386.45 C292.35,387.99 294.22,390.96 296.61,391.08 C298.99,391.19 302.22,388.04 304.32,387.15 C306.43,386.26 307.24,386.92 309.23,385.75 C311.22,384.58 313.67,382.47 316.24,380.14 C318.82,377.8 321.86,374.24 324.66,371.72 C327.47,369.19 330.53,366.16 333.08,364.99 C335.63,363.82 337.61,364.52 339.95,364.71 C342.29,364.89 344.72,364.24 347.1,366.11 C349.49,367.98 351.87,371.95 354.26,375.93 C356.64,379.9 359.03,385.51 361.41,389.96 C363.8,394.4 366.02,398.07 368.57,402.58 C371.11,407.09 374.1,412.15 376.67,417 C379.24,421.85 381.56,427.51 384,431.67 C386.45,435.82 389.13,439.29 391.33,441.93 C393.53,444.57 395,447.02 397.2,447.51 C399.4,448 402.09,446.9 404.54,444.87 C406.98,442.84 409.42,439 411.87,435.33 C414.31,431.67 416.76,426.17 419.2,422.87 C421.65,419.57 424.09,418.1 426.54,415.53 C428.98,412.97 431.55,409.3 433.87,407.47 C436.19,405.63 438.27,404.66 440.47,404.53 C442.67,404.41 444.75,406.07 447.07,406.73 C449.39,407.39 451.96,408.37 454.4,408.49 C456.85,408.62 459.29,408.62 461.74,407.47 C464.18,406.32 466.65,404.02 469.07,401.6 C471.49,399.18 473.11,395.85 476.27,392.94 C479.42,390.03 484.58,387.31 488,384.14 C491.42,380.96 494.11,377.54 496.8,373.87 C499.49,370.2 501.69,365.8 504.14,362.14 C506.58,358.47 509.03,354.92 511.47,351.87 C513.91,348.81 516.36,346 518.8,343.8 C521.25,341.6 523.79,339.82 526.14,338.67 C528.48,337.52 530.56,337.2 532.88,336.91 C535.21,336.61 537.67,337.3 540.07,336.91 C542.47,336.52 544.89,335.49 547.26,334.56 C549.63,333.63 551.95,332.97 554.3,331.33 C556.64,329.7 558.94,326.57 561.34,324.73 C563.73,322.9 566.28,321.31 568.67,320.33 C571.07,319.36 573.27,319.04 575.71,318.87 C578.16,318.7 580.84,319.31 583.34,319.31 C585.83,319.31 588.35,318.62 590.67,318.87 C592.99,319.11 595,320.29 597.27,320.77 C599.55,321.26 601.94,321.63 604.31,321.8 C606.68,321.97 608.11,321.81 611.5,321.8 C614.89,321.79 620.03,321.75 624.67,321.74 C629.31,321.72 634.45,321.74 639.33,321.74 C644.22,321.74 650.09,322.1 654,321.74 C657.91,321.37 659.87,321 662.8,319.54 C665.73,318.07 668.18,315.01 671.6,312.93 C675.02,310.86 679.18,308.95 683.34,307.07 C687.49,305.19 692.87,302.55 696.54,301.64 C700.2,300.74 701.67,301.64 705.34,301.64 C709,301.64 715.11,301.47 718.54,301.64 C721.96,301.81 723.43,302.01 725.87,302.67 C728.31,303.33 730.76,305.04 733.2,305.6 C735.65,306.16 738.09,306.29 740.54,306.04 C742.98,305.8 745.43,304.77 747.87,304.13 C750.31,303.5 752.76,302.55 755.2,302.23 C757.65,301.91 760.09,301.67 762.54,302.23 C764.98,302.79 767.43,304.55 769.87,305.6 C772.32,306.65 775,307.56 777.2,308.53 C779.4,309.51 780.87,310.49 783.07,311.47 C785.27,312.45 787.96,314.16 790.4,314.4 C792.85,314.65 795.29,313.67 797.74,312.93 C800.18,312.2 802.63,310.91 805.07,310 C807.52,309.1 809.96,308.12 812.41,307.51 C814.85,306.9 816.03,306.46 819.74,306.33 C823.45,306.21 829.73,307.03 834.67,306.76 C839.6,306.49 845.67,305.74 849.33,304.71 C853,303.68 854.22,302.14 856.67,300.6 C859.11,299.06 861.56,297.06 864,295.47 C866.45,293.88 868.89,292.29 871.33,291.07 C873.78,289.85 876.22,289.24 878.67,288.14 C881.11,287.04 883.56,285.81 886,284.47 C888.45,283.12 890.89,281.29 893.34,280.07 C895.78,278.85 898.22,277.92 900.67,277.14 C903.11,276.35 905.56,275.99 908,275.38 C910.45,274.76 912.89,274.1 915.34,273.47 C917.78,272.83 920.22,272.17 922.67,271.56 C925.11,270.95 927.56,270.71 930,269.8 C932.45,268.9 934.89,267.6 937.34,266.14 C939.78,264.67 942.23,262.59 944.67,261 C947.11,259.41 949.56,257.7 952,256.6 C954.45,255.5 956.89,255.01 959.34,254.4 C961.78,253.79 964.23,253.55 966.67,252.93 C969.12,252.32 971.56,251.59 974,250.73 C976.45,249.88 978.89,248.34 981.34,247.8 C983.78,247.26 986.23,247.63 988.67,247.51 C991.12,247.39 993.56,247.75 996,247.07 C998.45,246.38 1000.89,244.99 1003.34,243.4 C1005.78,241.81 1008.23,239.98 1010.67,237.53 C1013.12,235.09 1016.12,231.36 1018.01,228.73 C1019.89,226.11 1020.11,224.67 1022,221.8 C1023.89,218.94 1026.89,215.45 1029.33,211.54 C1031.78,207.62 1034.22,202.98 1036.67,198.34 C1039.11,193.69 1041.07,188.56 1044,183.67 C1046.93,178.78 1050.6,173.89 1054.27,169 C1057.93,164.11 1062.33,158.98 1066,154.33 C1069.67,149.69 1072.6,146.76 1076.27,141.13 C1079.94,135.51 1084.58,126.71 1088,120.6 C1091.42,114.49 1093.87,108.87 1096.8,104.47 C1099.74,100.07 1103.04,96.52 1105.6,94.2 C1108.17,91.88 1110.49,90.05 1112.2,90.54 C1113.91,91.02 1114.53,94.57 1115.87,97.14 C1117.21,99.7 1118.56,103.49 1120.27,105.94 C1121.98,108.38 1123.94,110.34 1126.14,111.8 C1128.34,113.27 1131.15,113.81 1133.47,114.74 C1135.79,115.66 1137.87,117.38 1140.07,117.38 C1142.27,117.38 1144.35,115.71 1146.67,114.74 C1148.99,113.76 1152.78,112.05 1154,111.51" fill="none" stroke="#e2634e" stroke-width="1.0" stroke-linejoin="round"/>
</g>
<line x1="870.8" y1="497.5" x2="480.66" y2="423.5" stroke="#1633dd" stroke-width="4.7" stroke-linecap="round"/><polygon points="461.7,419.9 484.6,413.46 480.65,434.28" fill="#1633dd"/>
<line x1="870.8" y1="497.5" x2="798.11" y2="363.66" stroke="#1633dd" stroke-width="4.7" stroke-linecap="round"/><polygon points="788.9,346.7 808.38,360.36 789.75,370.48" fill="#1633dd"/>
<line x1="870.8" y1="497.5" x2="1122.76" y2="218.52" stroke="#1633dd" stroke-width="4.7" stroke-linecap="round"/><polygon points="1135.7,204.2 1129.29,227.11 1113.56,212.9" fill="#1633dd"/>
<text x="842.8" y="527.8" font-size="31.0" font-weight="bold" fill="#1633dd" stroke="#1633dd" stroke-width="0.1" textLength="101.5" lengthAdjust="spacingAndGlyphs">EMA50</text>
<g clip-path="url(#rsiclip)"><polyline points="4.83,559.17 11.6,555.88 18.37,554.33 25.14,575.6 31.9,579.86 39.64,575.99 46.4,590.1 53.17,591.46 60.9,585.66 68.64,590.1 82.17,584.88 90.87,588.56 102.47,586.24 109.24,581.98 117.94,575.22 125.68,591.46 133.02,586.24 139.6,589.52 146.95,581.4 161.45,611.95 168.21,610.02 177.88,602.67 188.52,599.77 197.22,603.06 203.98,604.99 211.72,597.84 218.48,592.62 225.83,595.9 232.99,584.88 247.49,576.57 253.29,569.42 261.02,564.39 268.75,584.88 282.29,581.02 282.9,581.02 290.05,615.82 297.01,613.89 304.17,594.55 310.94,596.48 318.28,586.82 324.47,585.66 331.82,584.69 339.94,600.35 346.71,606.93 354.44,624.91 361.21,635.93 368.55,639.41 375.71,633.99 383.44,641.73 390.21,644.63 396.98,635.54 403.74,619.11 411.48,601.71 418.24,603.64 425.98,601.13 433.71,602.09 440.48,603.64 447.25,615.82 454.01,611.95 461.75,606.54 468.52,606.15 475.67,595.9 483.02,599.77 489.78,599.77 497.52,591.07 504.28,586.24 511.05,583.72 519.75,588.17 526.52,588.56 533.29,600.16 540.05,597.26 546.82,600.16 554.56,593 561.32,590.1 561.93,590.1 568.7,591.46 576.43,596.48 583.59,598.42 590.55,597.45 597.7,607.51 604.86,603.64 611.82,603.25 618,601.71 625.74,610.02 633.09,600.74 640.24,604.99 647.39,607.12 654.74,604.99 661.51,601.32 668.28,595.9 675.62,592.04 682.78,596.29 689.93,593 696.89,591.65 704.04,602.67 711.39,600.16 718.55,603.06 725.89,610.79 732.66,612.73 739.81,608.47 746.58,604.22 753.93,598.81 761.08,604.99 768.43,619.49 775.58,611.95 783.32,622.97 790.67,617.75 797.82,610.41 804.59,602.09 811.93,607.12 818.12,605.57 826.43,608.47 832.62,607.12 847.26,609.81 854.3,600.57 861.56,595.07 868.6,590.01 876.3,594.41 883.56,592.65 890.61,590.01 897.21,589.57 904.47,586.71 912.17,594.41 919.21,591.77 926.47,591.55 933.51,587.81 940.77,583.4 947.81,578.12 955.07,582.52 962.11,586.27 969.37,584.5 976.41,581.86 983.01,580.76 990.28,593.97 997.76,586.71 1005.02,582.96 1012.06,574.6 1019.32,566.9 1026.58,563.16 1033.18,560.3 1040.66,554.36 1047.92,552.16 1054.52,551.5 1062.22,561.4 1069.48,558.76 1076.52,558.54 1083.78,553.7 1090.83,551.5 1097.43,549.96 1105.13,566.9 1111.73,570.2 1119.43,613.11 1126.03,612.01 1133.73,603.65 1140.33,605.41 1147.37,597.05 1154.63,595.07" fill="none" stroke="#70a6cb" stroke-width="1.15" stroke-linejoin="round" /></g>
<g clip-path="url(#stoclip)"><polyline points="3.87,700.8 11.6,706.21 18.37,709.5 25.14,724 31.9,734.64 39.64,744.3 46.4,748.17 54.14,752.04 60.9,756.48 68.64,760.35 75.41,762.67 82.17,761.71 89.91,763.06 96.67,766.15 104.41,771.37 111.18,770.02 117.94,761.71 125.68,751.07 132.44,739.47 139.21,733.67 146.95,718.2 154.29,723.04 161.45,747.2 168.21,776.21 175.56,787.42 182.71,773.31 190.45,758.81 197.22,758.81 204.56,763.06 211.72,758.81 218.48,745.27 225.25,732.7 232.99,718.2 239.75,709.5 247.49,701.77 254.25,701.77 261.02,711.43 267.79,724.97 275.52,736.57 289.67,758.81 297.01,775.24 303.59,777.75 310.94,760.74 318.28,734.64 325.44,724 332.59,714.33 339.94,725.94 347.67,740.44 354.44,766.54 361.59,789.74 368.94,797.09 376.29,790.13 383.44,790.13 390.21,796.51 397.56,802.31 404.71,789.74 411.86,767.51 418.82,748.17 425.98,735.6 432.75,732.7 440.09,726.9 447.25,729.8 454.01,730.77 461.36,729.8 468.52,720.14 475.67,710.08 483.02,708.15 489.78,707.57 496.94,708.15 504.28,705.63 511.05,704.67 518.79,710.47 525.94,714.33 533.29,724.97 540.05,729.8 547.4,735.22 554.56,730.77 568.7,715.3 575.85,719.17 583.2,728.84 589.97,739.47 597.12,752.04 604.47,760.74 611.24,767.51 618.39,756.48 625.74,760.74 632.51,753.97 639.66,754.94 647.01,751.46 654.35,760.74 661.51,753.97 668.66,733.67 675.62,716.66 682.78,720.14 689.93,724.97 697.28,726.9 704.62,730.77 711.78,736.57 718.93,746.24 725.89,755.9 733.05,769.44 740.2,780.07 747.16,775.24 754.32,757.84 761.47,754.55 768.82,769.44 776.16,782.01 783.32,794.57 790.47,784.33 797.43,775.24 804.59,748.17 811.74,729.8 818.7,718.2 825.85,725.55 833.01,725.94 847.26,728.44 854.3,721.4 861.56,713.7 868.6,703.8 875.86,707.76 882.9,711.06 890.61,713.7 897.65,710.4 904.47,707.76 912.17,712.16 919.21,714.36 926.47,718.1 933.51,712.6 940.77,707.1 947.81,703.36 955.07,710.4 962.11,719.2 969.37,724.7 976.41,720.96 983.45,715.9 990.72,718.76 997.76,719.64 1005.02,719.2 1012.06,704.9 1019.32,698.96 1026.58,700.5 1033.62,701.16 1040.66,702.04 1047.92,703.36 1055.18,704.9 1062.22,708.2 1069.48,705.56 1076.52,707.1 1083.78,701.16 1090.83,701.6 1097.43,700.5 1105.13,706 1112.17,711.5 1119.43,741.2 1126.03,764.31 1133.29,782.57 1140.33,775.31 1147.37,762.11 1154.63,754.85" fill="none" stroke="#6dbfba" stroke-width="1.05" stroke-linejoin="round" /><polyline points="3.87,700.8 11.6,702.73 18.37,705.63 25.14,714.33 31.9,724 39.64,735.6 46.4,742.37 54.14,748.17 60.9,753 68.64,756.87 75.41,760.35 82.17,761.71 89.91,762.67 96.67,764.22 104.41,766.93 111.18,769.44 117.94,768.09 125.68,760.74 132.44,751.07 139.21,741.4 146.95,729.8 154.29,724.39 161.45,728.84 168.21,749.14 175.56,770.41 182.71,779.69 190.45,772.34 197.22,763.64 204.56,760.74 211.72,760.74 218.48,756.48 225.25,746.24 232.99,731.74 239.75,720.14 247.49,710.08 254.25,704.28 261.02,705.63 267.79,713.37 275.52,725.94 289.67,747.2 297.01,760.74 304.17,771.37 310.94,771.37 318.28,757.26 325.44,739.47 332.59,724.39 339.94,721.1 347.67,725.94 354.44,744.3 361.59,766.54 368.94,785.87 376.29,793.22 383.44,793.22 390.21,792.64 397.56,795.93 404.71,797.47 411.86,785.87 418.82,768.47 425.98,750.1 432.75,738.5 440.09,731.74 447.25,729.8 454.01,729.42 461.36,730.19 468.52,726.9 475.67,720.14 483.02,712.79 489.78,708.53 496.94,708.15 504.28,706.99 511.05,706.21 518.79,706.99 525.94,710.08 533.29,716.66 540.05,723.04 547.4,729.8 554.56,732.12 568.7,723.62 575.85,719.75 583.2,721.1 589.97,729.42 597.12,739.86 604.47,751.07 611.24,759.77 618.39,761.71 625.74,761.71 632.51,757.26 639.66,756.87 647.01,753.97 654.35,756.48 661.51,755.32 668.66,749.52 675.62,737.15 682.78,724.97 689.93,721.1 697.28,723.62 704.62,726.9 711.78,731.35 718.93,737.92 725.89,746.24 733.05,757.26 740.2,768.86 747.16,775.24 754.32,771.37 761.47,762.67 768.82,760.74 776.16,768.86 783.32,782.01 790.47,787.81 797.43,784.91 804.59,772.34 811.74,751.07 818.7,732.12 825.85,724.39 833.01,723.04 847.26,728 854.3,725.8 861.56,720.96 868.6,713.04 875.86,708.64 882.9,707.1 890.61,710.4 897.65,711.5 904.47,710.4 912.17,709.96 919.21,711.5 926.47,714.8 933.51,715.24 940.77,712.6 947.81,708.2 955.07,706 962.11,710.84 969.37,718.1 976.41,721.4 983.45,720.3 990.72,718.76 997.76,718.1 1005.02,719.2 1012.06,714.8 1019.32,707.76 1026.58,701.16 1033.62,700.5 1040.66,701.16 1047.92,702.7 1055.18,703.8 1062.22,705.56 1069.48,706 1076.52,707.1 1083.78,704.9 1090.83,702.7 1097.43,700.5 1105.13,702.04 1112.17,706 1119.43,719.2 1126.03,739 1133.29,762.11 1140.33,774.21 1147.37,773.11 1154.63,765.41" fill="none" stroke="#da6a57" stroke-width="1.05" stroke-linejoin="round" /></g>
<g opacity="0.996"><g id="logo">
<g fill="#1b8de2">
<path d="M27.82,40.5 A30.03,30.03 0 1 0 76.2,40.5 Z"/>
<path d="M26.92,41.8 A30.03,30.03 0 0 1 32.94,35 Q36.5,31.2 40.2,29.4 Q43.5,27.6 46.2,26.4 Q49.5,25.2 51.6,24 Q49.6,25.6 48.6,27.6 Q48.2,30 50.4,30.8 Q53.5,31.6 56.4,29.7 Q59,27.2 63,24 Q62.6,25.5 63.3,27.9 Q64.2,29.8 66.6,29.7 Q69.5,29.2 72,27 Q75,24.6 78.6,24.6 Q81.5,23.5 83.1,21 Q83.9,24 82.5,26.4 Q80.5,29.5 76.2,31.8 Q73.5,33.4 73.9,34.6 Q74.6,35.8 77.4,35.1 Q78.8,34.4 79.8,33 Q80.6,36 78.9,39 L77.2,41.8 Z"/>
</g>
<path fill="#fff" d="M34.34,41.06 H84 V50.74 H64.44 V90 H52.1 V50.74 H34.34 Z"/>
<g fill="#1b8de2" fill-rule="evenodd">
<path d="M84.6,39.62 H100.5 V44.65 H95.5 V72.28 H89.8 V44.65 H84.6 Z"/>
<path d="M104.7,47.5 Q104.7,39.62 112.95,39.62 Q121.2,39.62 121.2,47.5 V64.4 Q121.2,72.28 112.95,72.28 Q104.7,72.28 104.7,64.4 Z M110.25,47.6 V64.3 Q110.25,67 112.95,67 Q115.65,67 115.65,64.3 V47.6 Q115.65,44.9 112.95,44.9 Q110.25,44.9 110.25,47.6 Z"/>
<path d="M125.4,39.62 H141.4 V44.65 H136.3 V72.28 H130.6 V44.65 H125.4 Z"/>
<path d="M146.2,39.62 H155.6 Q162.8,39.62 162.8,46.6 V53.2 Q162.8,58 159.6,59.5 L163.3,72.28 H157.5 L154.1,60.3 H151.9 V72.28 H146.2 Z M151.9,44.7 V55.4 H155 Q157.1,55.4 157.1,53.2 V46.9 Q157.1,44.7 155,44.7 Z"/>
<rect x="168.5" y="39.62" width="5.75" height="32.66"/>
<path d="M180.7,39.62 H193.7 V44.65 H186.4 V53.6 H192.6 V58.4 H186.4 V67.25 H193.7 V72.28 H180.7 Z"/>
<path d="M199.3,39.62 H205 V64.6 Q205,67.3 207.7,67.3 Q210.4,67.3 210.4,64.6 V39.62 H216.1 V64.4 Q216.1,72.28 207.7,72.28 Q199.3,72.28 199.3,64.4 Z"/>
</g>
<text x="98.4" y="85.65" font-size="13.9" font-weight="bold" textLength="102.9" lengthAdjust="spacingAndGlyphs" fill="#5f5650">let's learn together</text>
</g></g>
<g opacity="0.996">
<path d="M6.3,10.3 H12.9 L9.6,14.1 Z" fill="#000"/>
<text x="16.8" y="15.3" font-size="9.4" fill="#000" stroke="#000" stroke-width="0.22" text-anchor="start" textLength="50.8" lengthAdjust="spacingAndGlyphs">GOLD#,Daily</text>
<text x="74.2" y="15.3" font-size="9.4" fill="#000" stroke="#000" stroke-width="0.22" text-anchor="start" textLength="28.3" lengthAdjust="spacingAndGlyphs">1984.61</text>
<text x="106.6" y="15.3" font-size="9.4" fill="#000" stroke="#000" stroke-width="0.22" text-anchor="start" textLength="28.3" lengthAdjust="spacingAndGlyphs">1995.95</text>
<text x="138.8" y="15.3" font-size="9.4" fill="#000" stroke="#000" stroke-width="0.22" text-anchor="start" textLength="28.3" lengthAdjust="spacingAndGlyphs">1980.48</text>
<text x="170.9" y="15.3" font-size="9.4" fill="#000" stroke="#000" stroke-width="0.22" text-anchor="start" textLength="28.5" lengthAdjust="spacingAndGlyphs">1991.80</text>
<text x="6.8" y="542.9" font-size="9.4" fill="#000" stroke="#000" stroke-width="0.22" text-anchor="start" textLength="61.2" lengthAdjust="spacingAndGlyphs">RSI(14) 60.7424</text>
<text x="7.2" y="706.4" font-size="9.4" fill="#000" stroke="#000" stroke-width="0.22" text-anchor="start" textLength="105" lengthAdjust="spacingAndGlyphs">Sto(14,3,3) 52.3646 44.7487</text>
<rect x="1457.7" y="24.5" width="2.3" height="1" fill="#222"/>
<text x="1462" y="28.3" font-size="9.4" fill="#000" stroke="#000" stroke-width="0.22" text-anchor="start" textLength="29.3" lengthAdjust="spacingAndGlyphs">2081.20</text>
<rect x="1457.7" y="54" width="2.3" height="1" fill="#222"/>
<text x="1462" y="57.8" font-size="9.4" fill="#000" stroke="#000" stroke-width="0.22" text-anchor="start" textLength="29.3" lengthAdjust="spacingAndGlyphs">2043.80</text>
<rect x="1457.7" y="83.5" width="2.3" height="1" fill="#222"/>
<text x="1462" y="87.3" font-size="9.4" fill="#000" stroke="#000" stroke-width="0.22" text-anchor="start" textLength="29.3" lengthAdjust="spacingAndGlyphs">2006.40</text>
<rect x="1457.7" y="113" width="2.3" height="1" fill="#222"/>
<text x="1462" y="116.8" font-size="9.4" fill="#000" stroke="#000" stroke-width="0.22" text-anchor="start" textLength="29.3" lengthAdjust="spacingAndGlyphs">1967.90</text>
<rect x="1457.7" y="142.5" width="2.3" height="1" fill="#222"/>
<text x="1462" y="146.3" font-size="9.4" fill="#000" stroke="#000" stroke-width="0.22" text-anchor="start" textLength="29.3" lengthAdjust="spacingAndGlyphs">1930.50</text>
<rect x="1457.7" y="172" width="2.3" height="1" fill="#222"/>
<text x="1462" y="175.8" font-size="9.4" fill="#000" stroke="#000" stroke-width="0.22" text-anchor="start" textLength="29.3" lengthAdjust="spacingAndGlyphs">1892.00</text>
<rect x="1457.7" y="201.5" width="2.3" height="1" fill="#222"/>
<text x="1462" y="205.3" font-size="9.4" fill="#000" stroke="#000" stroke-width="0.22" text-anchor="start" textLength="29.3" lengthAdjust="spacingAndGlyphs">1854.60</text>
<rect x="1457.7" y="231" width="2.3" height="1" fill="#222"/>
<text x="1462" y="234.8" font-size="9.4" fill="#000" stroke="#000" stroke-width="0.22" text-anchor="start" textLength="29.3" lengthAdjust="spacingAndGlyphs">1817.20</text>
<rect x="1457.7" y="260.5" width="2.3" height="1" fill="#222"/>
<text x="1462" y="264.3" font-size="9.4" fill="#000" stroke="#000" stroke-width="0.22" text-anchor="start" textLength="29.3" lengthAdjust="spacingAndGlyphs">1778.70</text>
<rect x="1457.7" y="290" width="2.3" height="1" fill="#222"/>
<text x="1462" y="293.8" font-size="9.4" fill="#000" stroke="#000" stroke-width="0.22" text-anchor="start" textLength="29.3" lengthAdjust="spacingAndGlyphs">1741.30</text>
<rect x="1457.7" y="319.5" width="2.3" height="1" fill="#222"/>
<text x="1462" y="323.3" font-size="9.4" fill="#000" stroke="#000" stroke-width="0.22" text-anchor="start" textLength="29.3" lengthAdjust="spacingAndGlyphs">1702.80</text>
<rect x="1457.7" y="349" width="2.3" height="1" fill="#222"/>
<text x="1462" y="352.8" font-size="9.4" fill="#000" stroke="#000" stroke-width="0.22" text-anchor="start" textLength="29.3" lengthAdjust="spacingAndGlyphs">1665.40</text>
<rect x="1457.7" y="378.5" width="2.3" height="1" fill="#222"/>
<text x="1462" y="382.3" font-size="9.4" fill="#000" stroke="#000" stroke-width="0.22" text-anchor="start" textLength="29.3" lengthAdjust="spacingAndGlyphs">1628.00</text>
<rect x="1457.7" y="408" width="2.3" height="1" fill="#222"/>
<text x="1462" y="411.8" font-size="9.4" fill="#000" stroke="#000" stroke-width="0.22" text-anchor="start" textLength="29.3" lengthAdjust="spacingAndGlyphs">1589.50</text>
<rect x="1457.7" y="437.5" width="2.3" height="1" fill="#222"/>
<text x="1462" y="441.3" font-size="9.4" fill="#000" stroke="#000" stroke-width="0.22" text-anchor="start" textLength="29.3" lengthAdjust="spacingAndGlyphs">1552.10</text>
<rect x="1457.7" y="467" width="2.3" height="1" fill="#222"/>
<text x="1462" y="470.8" font-size="9.4" fill="#000" stroke="#000" stroke-width="0.22" text-anchor="start" textLength="29.3" lengthAdjust="spacingAndGlyphs">1513.60</text>
<rect x="1457.7" y="496.5" width="2.3" height="1" fill="#222"/>
<text x="1462" y="500.3" font-size="9.4" fill="#000" stroke="#000" stroke-width="0.22" text-anchor="start" textLength="29.3" lengthAdjust="spacingAndGlyphs">1476.20</text>
<rect x="1457.7" y="526" width="2.3" height="1" fill="#222"/>
<text x="1462" y="529.8" font-size="9.4" fill="#000" stroke="#000" stroke-width="0.22" text-anchor="start" textLength="29.3" lengthAdjust="spacingAndGlyphs">1438.80</text>
<rect x="1460" y="90.4" width="34.8" height="9.4" fill="#000"/>
<text x="1462.6" y="98.4" font-size="9.4" fill="#fff" stroke="#fff" stroke-width="0.22" text-anchor="start" textLength="29.3" lengthAdjust="spacingAndGlyphs">1991.80</text>
<text x="1459.7" y="540.9" font-size="9.4" fill="#000" stroke="#000" stroke-width="0.22" text-anchor="start" textLength="12.9" lengthAdjust="spacingAndGlyphs">100</text>
<text x="1459.7" y="583.7" font-size="9.4" fill="#000" stroke="#000" stroke-width="0.22" text-anchor="start" textLength="8.7" lengthAdjust="spacingAndGlyphs">70</text>
<text x="1459.7" y="648.1" font-size="9.4" fill="#000" stroke="#000" stroke-width="0.22" text-anchor="start" textLength="8.7" lengthAdjust="spacingAndGlyphs">30</text>
<text x="1459.7" y="690.8" font-size="9.4" fill="#000" stroke="#000" stroke-width="0.22" text-anchor="start" textLength="4.4" lengthAdjust="spacingAndGlyphs">0</text>
<text x="1459.7" y="704.1" font-size="9.4" fill="#000" stroke="#000" stroke-width="0.22" text-anchor="start" textLength="12.9" lengthAdjust="spacingAndGlyphs">100</text>
<text x="1459.7" y="723.8" font-size="9.4" fill="#000" stroke="#000" stroke-width="0.22" text-anchor="start" textLength="8.7" lengthAdjust="spacingAndGlyphs">80</text>
<text x="1459.7" y="798.3" font-size="9.4" fill="#000" stroke="#000" stroke-width="0.22" text-anchor="start" textLength="8.7" lengthAdjust="spacingAndGlyphs">20</text>
<text x="1459.7" y="817.3" font-size="9.4" fill="#000" stroke="#000" stroke-width="0.22" text-anchor="start" textLength="4.4" lengthAdjust="spacingAndGlyphs">0</text>
<rect x="3.69" y="820" width="1" height="3" fill="#222"/>
<text x="2.89" y="831.2" font-size="9.4" fill="#000" stroke="#000" stroke-width="0.22" transform="translate(2.89,0) scale(0.876,1) translate(-2.89,0)">3 Jan 2020</text>
<rect x="60.84" y="820" width="1" height="3" fill="#222"/>
<text x="60.04" y="831.2" font-size="9.4" fill="#000" stroke="#000" stroke-width="0.22" transform="translate(60.04,0) scale(0.876,1) translate(-60.04,0)">15 Jan 2020</text>
<rect x="117.99" y="820" width="1" height="3" fill="#222"/>
<text x="117.19" y="831.2" font-size="9.4" fill="#000" stroke="#000" stroke-width="0.22" transform="translate(117.19,0) scale(0.876,1) translate(-117.19,0)">27 Jan 2020</text>
<rect x="175.15" y="820" width="1" height="3" fill="#222"/>
<text x="174.35" y="831.2" font-size="9.4" fill="#000" stroke="#000" stroke-width="0.22" transform="translate(174.35,0) scale(0.876,1) translate(-174.35,0)">6 Feb 2020</text>
<rect x="232.3" y="820" width="1" height="3" fill="#222"/>
<text x="231.5" y="831.2" font-size="9.4" fill="#000" stroke="#000" stroke-width="0.22" transform="translate(231.5,0) scale(0.876,1) translate(-231.5,0)">18 Feb 2020</text>
<rect x="289.45" y="820" width="1" height="3" fill="#222"/>
<text x="288.65" y="831.2" font-size="9.4" fill="#000" stroke="#000" stroke-width="0.22" transform="translate(288.65,0) scale(0.876,1) translate(-288.65,0)">28 Feb 2020</text>
<rect x="346.6" y="820" width="1" height="3" fill="#222"/>
<text x="345.8" y="831.2" font-size="9.4" fill="#000" stroke="#000" stroke-width="0.22" transform="translate(345.8,0) scale(0.876,1) translate(-345.8,0)">11 Mar 2020</text>
<rect x="403.75" y="820" width="1" height="3" fill="#222"/>
<text x="402.95" y="831.2" font-size="9.4" fill="#000" stroke="#000" stroke-width="0.22" transform="translate(402.95,0) scale(0.876,1) translate(-402.95,0)">23 Mar 2020</text>
<rect x="460.91" y="820" width="1" height="3" fill="#222"/>
<text x="460.11" y="831.2" font-size="9.4" fill="#000" stroke="#000" stroke-width="0.22" transform="translate(460.11,0) scale(0.876,1) translate(-460.11,0)">2 Apr 2020</text>
<rect x="518.06" y="820" width="1" height="3" fill="#222"/>
<text x="517.26" y="831.2" font-size="9.4" fill="#000" stroke="#000" stroke-width="0.22" transform="translate(517.26,0) scale(0.876,1) translate(-517.26,0)">15 Apr 2020</text>
<rect x="575.21" y="820" width="1" height="3" fill="#222"/>
<text x="574.41" y="831.2" font-size="9.4" fill="#000" stroke="#000" stroke-width="0.22" transform="translate(574.41,0) scale(0.876,1) translate(-574.41,0)">27 Apr 2020</text>
<rect x="632.36" y="820" width="1" height="3" fill="#222"/>
<text x="631.56" y="831.2" font-size="9.4" fill="#000" stroke="#000" stroke-width="0.22" transform="translate(631.56,0) scale(0.876,1) translate(-631.56,0)">7 May 2020</text>
<rect x="689.51" y="820" width="1" height="3" fill="#222"/>
<text x="688.71" y="831.2" font-size="9.4" fill="#000" stroke="#000" stroke-width="0.22" transform="translate(688.71,0) scale(0.876,1) translate(-688.71,0)">19 May 2020</text>
<rect x="746.67" y="820" width="1" height="3" fill="#222"/>
<text x="745.87" y="831.2" font-size="9.4" fill="#000" stroke="#000" stroke-width="0.22" transform="translate(745.87,0) scale(0.876,1) translate(-745.87,0)">29 May 2020</text>
<rect x="803.82" y="820" width="1" height="3" fill="#222"/>
<text x="803.02" y="831.2" font-size="9.4" fill="#000" stroke="#000" stroke-width="0.22" transform="translate(803.02,0) scale(0.876,1) translate(-803.02,0)">10 Jun 2020</text>
<rect x="860.97" y="820" width="1" height="3" fill="#222"/>
<text x="860.17" y="831.2" font-size="9.4" fill="#000" stroke="#000" stroke-width="0.22" transform="translate(860.17,0) scale(0.876,1) translate(-860.17,0)">22 Jun 2020</text>
<rect x="918.12" y="820" width="1" height="3" fill="#222"/>
<text x="917.32" y="831.2" font-size="9.4" fill="#000" stroke="#000" stroke-width="0.22" transform="translate(917.32,0) scale(0.876,1) translate(-917.32,0)">2 Jul 2020</text>
<rect x="975.27" y="820" width="1" height="3" fill="#222"/>
<text x="974.47" y="831.2" font-size="9.4" fill="#000" stroke="#000" stroke-width="0.22" transform="translate(974.47,0) scale(0.876,1) translate(-974.47,0)">14 Jul 2020</text>
<rect x="1032.43" y="820" width="1" height="3" fill="#222"/>
<text x="1031.63" y="831.2" font-size="9.4" fill="#000" stroke="#000" stroke-width="0.22" transform="translate(1031.63,0) scale(0.876,1) translate(-1031.63,0)">24 Jul 2020</text>
<rect x="1089.58" y="820" width="1" height="3" fill="#222"/>
<text x="1088.78" y="831.2" font-size="9.4" fill="#000" stroke="#000" stroke-width="0.22" transform="translate(1088.78,0) scale(0.876,1) translate(-1088.78,0)">5 Aug 2020</text>
<rect x="1146.73" y="820" width="1" height="3" fill="#222"/>
<text x="1145.93" y="831.2" font-size="9.4" fill="#000" stroke="#000" stroke-width="0.22" transform="translate(1145.93,0) scale(0.876,1) translate(-1145.93,0)">17 Aug 2020</text>
</g>
</svg>
</body></html>
